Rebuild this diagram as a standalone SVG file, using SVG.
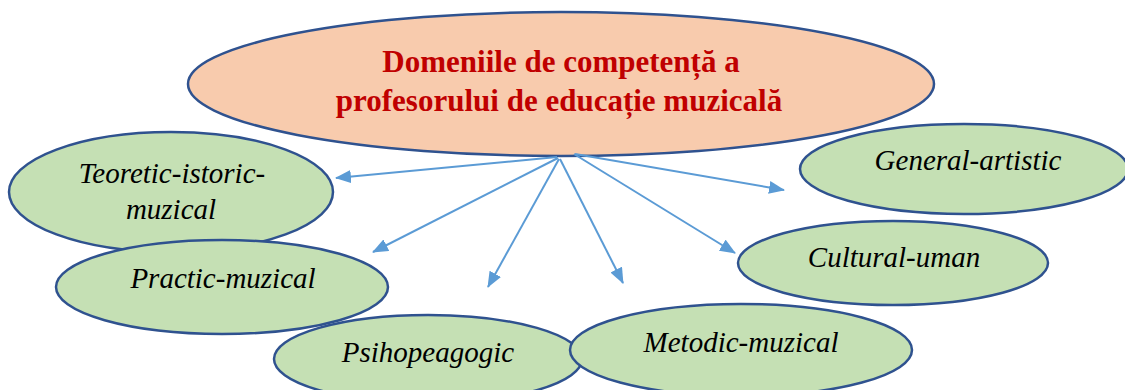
<svg xmlns="http://www.w3.org/2000/svg" width="1125" height="390" viewBox="0 0 1125 390">
<style>
.node{fill:#C5E0B4;stroke:#2F528F;stroke-width:2.5}
.top{fill:#F8CBAD;stroke:#2F528F;stroke-width:2.5}
.conn{stroke:#5B9BD5;stroke-width:2;fill:none;marker-end:url(#ah)}
</style>
<defs>
<marker id="ah" viewBox="0 0 16 13" refX="15" refY="6.5" markerWidth="16" markerHeight="13" markerUnits="userSpaceOnUse" orient="auto">
<path d="M0,0 L16,6.5 L0,13 z" fill="#5B9BD5"/>
</marker>
</defs>
<rect width="1125" height="390" fill="#fff"/>
<g id="node-root">
<ellipse class="top" cx="561" cy="84" rx="373" ry="72"/>
<text font-family="Liberation Serif" font-weight="bold" font-size="31" fill="#C00000" text-anchor="middle" x="561" y="72">Domeniile de competență a</text>
<text font-family="Liberation Serif" font-weight="bold" font-size="31" fill="#C00000" text-anchor="middle" x="559" y="111">profesorului de educație muzicală</text>
</g>
<g id="node-teoretic">
<ellipse class="node" cx="171" cy="192" rx="162" ry="60"/>
<text font-family="Liberation Serif" font-style="italic" font-size="29" fill="#000" text-anchor="middle" x="172" y="183">Teoretic-istoric-</text>
<text font-family="Liberation Serif" font-style="italic" font-size="29" fill="#000" text-anchor="middle" x="171" y="219">muzical</text>
</g>
<g id="node-practic">
<ellipse class="node" cx="222" cy="287" rx="166" ry="47"/>
<text font-family="Liberation Serif" font-style="italic" font-size="29" fill="#000" text-anchor="middle" x="223" y="288">Practic-muzical</text>
</g>
<g id="node-psiho">
<ellipse class="node" cx="428" cy="359" rx="154" ry="44"/>
<text font-family="Liberation Serif" font-style="italic" font-size="29" fill="#000" text-anchor="middle" x="428" y="362">Psihopeagogic</text>
</g>
<g id="node-metodic">
<ellipse class="node" cx="741" cy="350" rx="171" ry="46"/>
<text font-family="Liberation Serif" font-style="italic" font-size="29" fill="#000" text-anchor="middle" x="741" y="352">Metodic-muzical</text>
</g>
<g id="node-general">
<ellipse class="node" cx="964" cy="169" rx="164" ry="45"/>
<text font-family="Liberation Serif" font-style="italic" font-size="29" fill="#000" text-anchor="middle" x="968" y="170">General-artistic</text>
</g>
<g id="node-cultural">
<ellipse class="node" cx="893" cy="263" rx="155" ry="42"/>
<text font-family="Liberation Serif" font-style="italic" font-size="29" fill="#000" text-anchor="middle" x="894" y="267">Cultural-uman</text>
</g>
<g id="connectors">
<line class="conn" x1="557" y1="157" x2="336" y2="178"/>
<line class="conn" x1="558" y1="158" x2="373" y2="252"/>
<line class="conn" x1="559" y1="159" x2="488" y2="287"/>
<line class="conn" x1="560" y1="159" x2="623" y2="283"/>
<line class="conn" x1="574" y1="154" x2="735" y2="253"/>
<line class="conn" x1="575" y1="154" x2="784" y2="190"/>
</g>
</svg>
